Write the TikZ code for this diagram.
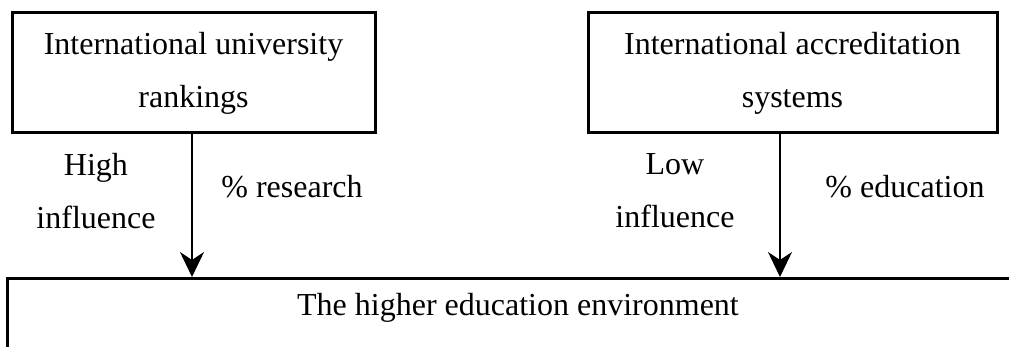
\documentclass[tikz,border=0pt]{standalone}
\usepackage{fontspec}
\setmainfont{Liberation Serif}
\usetikzlibrary{arrows.meta}
\begin{document}
\begin{tikzpicture}[x=0.5pt, y=-0.5pt, every node/.style={font=\fontsize{16}{26.5}\selectfont, align=center, inner sep=0pt},
    srcbox/.style={draw, line width=1.5pt, minimum height=60pt},
    flow/.style={line width=1.2pt, -{Stealth[length=12.5pt, width=12pt, inset=4pt]}}]
        \useasboundingbox (0,0) rectangle (1009,347);
        \clip (0,0) rectangle (1009,347);
        \node[srcbox, minimum width=181.5pt] (rank) at (193.5,73) {International university\\rankings};
        \node[srcbox, minimum width=204.5pt] (accr) at (792.5,73) {International accreditation\\systems};
        \node[draw, line width=1.5pt, anchor=north west, minimum width=560pt, minimum height=80pt] (envbox) at (6,277) {};
        \node (env) at (518,308) {The higher education environment};
        \coordinate (outL) at (192,133);
        \coordinate (outR) at (780,133);
        \draw[flow] (outL) -- (outL |- envbox.north);
        \draw[flow] (outR) -- (outR |- envbox.north);
        \node (highinf) at (96,191) {High\\influence};
        \node (research) at (292,187) {\% research};
        \node (lowinf) at (675,191) {Low\\influence};
        \node (educ) at (905,187) {\% education};
      \end{tikzpicture}
\end{document}
